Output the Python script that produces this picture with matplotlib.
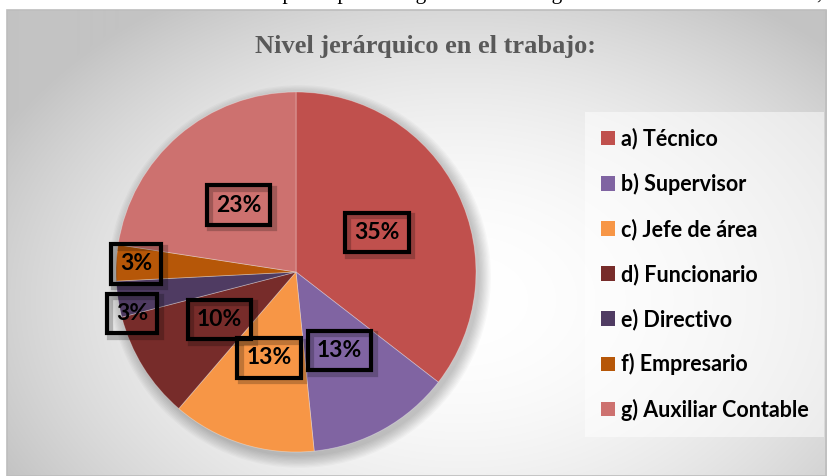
import numpy as np
import matplotlib
matplotlib.use("Agg")
import matplotlib.pyplot as plt
from matplotlib.patches import Circle, Rectangle
from matplotlib.font_manager import FontProperties
import matplotlib.patheffects as pe

# ---------------- data ----------------
title = "Nivel jerárquico en el trabajo:"
top_caption = "Distribución de los participantes según su nivel de gestión dentro de la institución,"
categories = ["a) Técnico", "b) Supervisor", "c) Jefe de área", "d) Funcionario",
              "e) Directivo", "f) Empresario", "g) Auxiliar Contable"]
counts = [11, 4, 4, 3, 1, 1, 7]
colors = ["#C0504D", "#8064A2", "#F79646", "#772C2A", "#4F3B62", "#B65708", "#CD716F"]
label_dist = [0.5, 0.5, 0.5, 0.5, 0.94, 0.89, 0.49]
label_nudge_deg = [0, 0, 0, 0, 5.5, 0, 0]

W, H, DPI = 830, 476, 100
fig = plt.figure(figsize=(W / DPI, H / DPI), dpi=DPI)
fig.patch.set_facecolor("white")

# ---------------- background frame with radial gradient ----------------
fx0, fx1, fy0, fy1 = 7, 826, 10, 476
bg = fig.add_axes([fx0 / W, 0, (fx1 - fx0) / W, (fy1 - fy0) / H])
bg.set_axis_off()
xs = np.arange(fx0, fx1)
ys = np.arange(fy0, fy1)
X, Y = np.meshgrid(xs, ys)
r2 = ((X - 460) / 520.0) ** 2 + ((Y - 300) / 360.0) ** 2
val = (255 - 60 * np.clip(r2, 0, 1)) / 255.0
img = np.dstack([val, val, val])
bg.imshow(img, aspect="auto", extent=[0, 1, 0, 1], origin="upper", interpolation="bilinear")
bg.set_xlim(0, 1)
bg.set_ylim(0, 1)
bg.add_patch(Rectangle((0, 0), 1, 1, transform=bg.transAxes, fill=False,
                       ec="#BDBDBD", lw=1.2, clip_on=False))

# cut-off caption at the very top (only its lower part is visible)
fig.text(822 / W, 1 + 0.5 / H, top_caption, ha="right", va="baseline",
         family="Liberation Serif", fontsize=15.5, color="black")

# title
fig.text(425 / W, 1 - 47 / H, title, ha="center", va="center",
         family="Liberation Serif", weight="bold", fontsize=19, color="#595959")

# ---------------- pie ----------------
cx, cy, R = 296, 272, 180
ax = fig.add_axes([(cx - R) / W, (H - cy - R) / H, 2 * R / W, 2 * R / H])
ax.set_axis_off()

# soft shadow
for i in range(10):
    ax.add_patch(Circle((0.02, -0.025), 1.0 + i * 0.007, color="black",
                        alpha=0.025, lw=0, zorder=0, clip_on=False))

wedges, _ = ax.pie(counts, colors=colors, startangle=90, counterclock=False, radius=1,
                   wedgeprops=dict(edgecolor=(1, 1, 1, 0.35), linewidth=0.6))
for w in wedges:
    w.set_zorder(2)
ax.set_xlim(-1, 1)
ax.set_ylim(-1, 1)

lab_font = FontProperties(family="Lato", weight="bold", size=16.5)
total = sum(counts)
for w, c, d, nd in zip(wedges, counts, label_dist, label_nudge_deg):
    th = np.deg2rad((w.theta1 + w.theta2) / 2 + nd)
    x, y = d * np.cos(th), d * np.sin(th)
    s = f"{round(100 * c / total)}%"
    t = ax.text(x, y, s, ha="center", va="center", fontproperties=lab_font, color="black",
                zorder=4,
                bbox=dict(boxstyle="square,pad=0.4", fc="none", ec="black", lw=3))
    t.get_bbox_patch().set_path_effects([
        pe.SimpleLineShadow(offset=(2.5, -2.5), shadow_color="black", alpha=0.22, linewidth=4.5),
        pe.Normal()])

# ---------------- legend ----------------
leg_font = FontProperties(family="Lato", weight="bold", size=15.5)
leg = ax.legend(wedges, categories, loc="upper left",
                bbox_to_anchor=(585 / W, 1 - 112 / H), bbox_transform=fig.transFigure,
                prop=leg_font, frameon=True, fancybox=False, framealpha=0.5,
                facecolor="white", edgecolor="none",
                handlelength=0.65, handleheight=0.65, handletextpad=0.25,
                labelspacing=1.08, borderpad=0.75, borderaxespad=0)
for h in leg.legend_handles:
    h.set_edgecolor("none")

fig.savefig("out.png", dpi=DPI)
